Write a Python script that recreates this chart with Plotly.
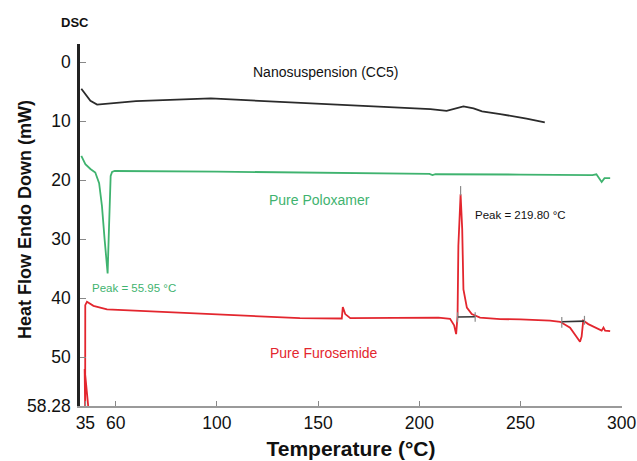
import plotly.graph_objects as go

# ---- data (x in axis units, y in mW, endo down) ----
nano_x = [33.0, 37.5, 40.8, 60.0, 97.0, 126.0, 141.0, 157.5, 174.0, 205.5, 213.5, 217.5,
          221.8, 226.8, 231.0, 240.0, 253.0, 262.0]
nano_y = [4.5, 6.55, 7.2, 6.6, 6.15, 6.65, 6.95, 7.2, 7.5, 7.95, 8.25, 7.85,
          7.5, 7.85, 8.35, 8.8, 9.55, 10.2]

polox_x = [33.0, 35.0, 37.5, 39.9, 41.8, 43.2, 44.5, 46.0, 46.5, 47.0, 47.5, 48.2, 49.5,
           100.0, 150.0, 205.0, 206.5, 208.0, 250.0, 285.5, 287.5, 290.1, 291.5, 294.3]
polox_y = [15.9, 17.3, 18.1, 18.7, 20.5, 24.4, 30.0, 35.8, 30.0, 24.4, 19.3, 18.6, 18.45,
           18.55, 18.75, 18.95, 19.15, 19.0, 19.05, 19.15, 19.0, 20.3, 19.65, 19.65]

furo_x = [36.6, 34.65, 34.9, 34.95, 35.8, 39.0, 45.7, 67.0, 92.0, 141.0, 161.7, 162.2,
          163.4, 165.9, 209.5, 215.2, 217.2, 218.2, 218.9, 219.3, 220.4, 221.2, 221.8,
          223.5, 225.9, 230.0, 240.0, 250.0, 264.6, 269.6, 274.5, 279.4, 280.2, 281.0,
          283.5, 287.7, 290.1, 291.0, 291.8, 294.3]
furo_y = [59.0, 52.0, 59.0, 41.2, 40.6, 41.3, 41.9, 42.25, 42.7, 43.4, 43.45, 41.5,
          42.7, 43.4, 43.3, 43.5, 44.6, 46.1, 43.0, 31.1, 22.4, 28.3, 38.5,
          41.6, 42.7, 43.3, 43.55, 43.6, 43.8, 44.0, 45.0, 47.4, 46.5, 43.8,
          44.4, 45.1, 45.5, 45.0, 45.5, 45.6]

# integration baselines and their limit markers
base_x = [218.9, 227.6, None, 270.4, 281.6]
base_y = [43.2, 43.15, None, 44.0, 43.9]
mark_x = [218.9, 218.9, None, 227.6, 227.6, None, 270.4, 270.4, None, 281.6, 281.6, None, 220.4, 220.4]
mark_y = [42.4, 44.1, None, 42.4, 44.0, None, 43.2, 45.0, None, 43.0, 44.5, None, 21.0, 22.6]

x_tickvals = [35, 50, 100, 150, 200, 250, 300]
x_ticktext = ["35", "60", "100", "150", "200", "250", "300"]
y_tickvals = [0, 10, 20, 30, 40, 50, 58.28]
y_ticktext = ["0", "10", "20", "30", "40", "50", "58.28"]

BLACK = "#2b2b2b"
GREEN = "#3fb36f"
RED = "#e3262e"

fig = go.Figure()
fig.add_trace(go.Scatter(x=nano_x, y=nano_y, mode="lines", line=dict(color=BLACK, width=1.8),
                         name="Nanosuspension (CC5)"))
fig.add_trace(go.Scatter(x=polox_x, y=polox_y, mode="lines", line=dict(color=GREEN, width=1.8),
                         name="Pure Poloxamer"))
fig.add_trace(go.Scatter(x=furo_x, y=furo_y, mode="lines", line=dict(color=RED, width=1.8),
                         name="Pure Furosemide"))
fig.add_trace(go.Scatter(x=base_x, y=base_y, mode="lines", line=dict(color="#333333", width=1.6),
                         showlegend=False))
fig.add_trace(go.Scatter(x=mark_x, y=mark_y, mode="lines", line=dict(color="#8a8a8a", width=1.2),
                         showlegend=False))

tick_font = dict(family="Arial, Liberation Sans, sans-serif", size=17.5, color="#111111")

fig.update_layout(
    width=637, height=461,
    margin=dict(l=80, r=15, t=44, b=55),
    paper_bgcolor="white", plot_bgcolor="white",
    showlegend=False,
    font=dict(family="Arial, Liberation Sans, sans-serif", color="#111111"),
    xaxis=dict(range=[32.35, 300.15], tickvals=x_tickvals, ticktext=x_ticktext,
               ticks="inside", ticklen=5, tickcolor="#888888", tickwidth=1.2,
               showline=True, linecolor="#9a9a9a", linewidth=1.6, automargin=False,
               showgrid=False, zeroline=False, tickfont=tick_font,
               title=dict(text="Temperature (°C)", standoff=10,
                          font=dict(family="Arial, sans-serif", size=21, weight="bold", color="#111111"))),
    yaxis=dict(range=[58.28, -3.08], tickvals=y_tickvals, ticktext=y_ticktext,
               ticks="inside", ticklen=6, tickcolor="#888888", tickwidth=1.2,
               showline=True, linecolor="#222222", linewidth=2.5, automargin=False,
               showgrid=False, zeroline=False, tickfont=tick_font, ticklabelstandoff=3),
)

ann_font = dict(family="Arial, sans-serif", size=14)
fig.add_annotation(text="Heat Flow Endo Down (mW)", xref="paper", yref="paper",
                   x=(25 - 80) / 542, y=(406 - 220) / 362, xanchor="center", yanchor="middle",
                   textangle=-90, showarrow=False,
                   font=dict(family="Arial, sans-serif", size=18, weight="bold", color="#111111"))
fig.add_annotation(text="DSC", xref="paper", yref="paper", x=(75 - 80) / 542, y=(406 - 23) / 362,
                   xanchor="center", yanchor="middle", showarrow=False,
                   font=dict(family="Arial, sans-serif", size=13, weight="bold", color="#111111"))
fig.add_annotation(text="Nanosuspension (CC5)", x=153.8, y=1.67, showarrow=False,
                   font=dict(ann_font, color="#111111"))
fig.add_annotation(text="Pure Poloxamer", x=150.9, y=23.36, showarrow=False,
                   font=dict(ann_font, color=GREEN))
fig.add_annotation(text="Pure Furosemide", x=152.8, y=49.24, showarrow=False,
                   font=dict(ann_font, color=RED))
fig.add_annotation(text="Peak = 55.95 °C", x=37.3, y=38.3, xanchor="left", showarrow=False,
                   font=dict(family="Arial, sans-serif", size=11.5, color=GREEN))
fig.add_annotation(text="Peak = 219.80 °C", x=226.3, y=25.9, xanchor="left", showarrow=False,
                   font=dict(family="Arial, sans-serif", size=11.5, color="#111111"))

fig.write_html("out.html")
